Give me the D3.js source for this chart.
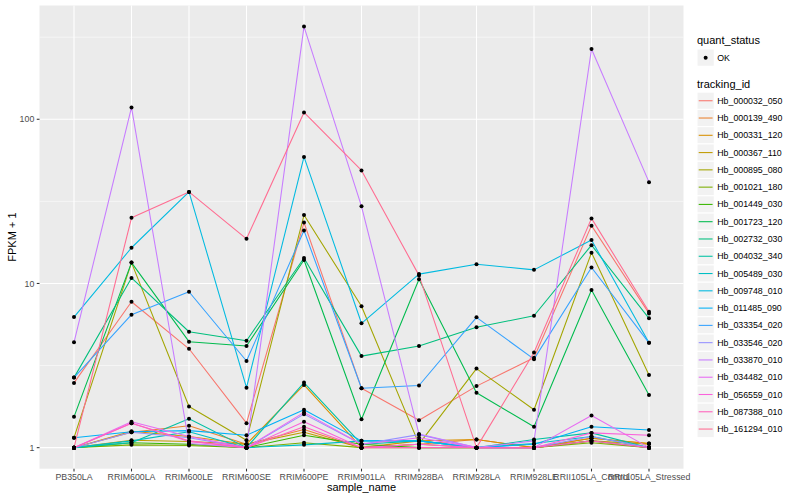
<!DOCTYPE html>
<html>
<head>
<meta charset="utf-8">
<script src="https://cdn.jsdelivr.net/npm/d3@7"></script>
<style>
  html, body { margin: 0; padding: 0; background: #ffffff; }
  svg { display: block; font-family: "Liberation Sans", Arial, sans-serif; }
</style>
</head>
<body>
<svg id="chart" width="800" height="500"></svg>
<script>
const samples = ["PB350LA","RRIM600LA","RRIM600LE","RRIM600SE","RRIM600PE","RRIM901LA","RRIM928BA","RRIM928LA","RRIM928LE","RRII105LA_Control","RRII105LA_Stressed"];

const trackingIds = ["Hb_000032_050","Hb_000139_490","Hb_000331_120","Hb_000367_110","Hb_000895_080","Hb_001021_180","Hb_001449_030","Hb_001723_120","Hb_002732_030","Hb_004032_340","Hb_005489_030","Hb_009748_010","Hb_011485_090","Hb_033354_020","Hb_033546_020","Hb_033870_010","Hb_034482_010","Hb_056559_010","Hb_087388_010","Hb_161294_010"];

const seriesColors = ["#F8766D","#EA8331","#D89000","#C09B00","#A3A500","#7CAE00","#39B600","#00BB4E","#00BF7D","#00C1A3","#00BFC4","#00BAE0","#00B0F6","#35A2FF","#9590FF","#C77CFF","#E76BF3","#FA62DB","#FF62BC","#FF6C91"];

// FPKM + 1 values, one array per tracking_id, in sample order
const v_000032_050 = [2.48, 7.74, 4.0, 1.41, 23.5, 2.30, 1.47, 2.37, 3.53, 22.5, 6.57];
const v_000139_490 = [1.0, 1.24, 1.36, 1.05, 1.29, 1.0, 1.05, 1.12, 1.0, 1.14, 1.06];
const v_000331_120 = [1.0, 1.26, 1.17, 1.05, 2.41, 1.0, 1.10, 1.12, 1.0, 1.14, 1.06];
const v_000367_110 = [1.0, 1.11, 1.09, 1.05, 1.24, 1.0, 1.05, 1.0, 1.0, 1.10, 1.05];
const v_000895_080 = [1.15, 13.4, 1.78, 1.11, 26.1, 7.26, 1.05, 3.03, 1.70, 15.4, 2.77];
const v_001021_180 = [1.0, 1.04, 1.03, 1.0, 1.07, 1.0, 1.0, 1.0, 1.0, 1.07, 1.0];
const v_001449_030 = [1.0, 1.07, 1.05, 1.0, 1.19, 1.05, 1.0, 1.0, 1.0, 1.10, 1.0];
const v_001723_120 = [1.54, 13.4, 4.42, 4.16, 13.9, 1.49, 10.6, 2.16, 1.34, 9.12, 2.09];
const v_002732_030 = [2.67, 10.8, 5.08, 4.48, 14.3, 3.61, 4.16, 5.41, 6.36, 17.1, 6.13];
const v_004032_340 = [1.0, 1.07, 1.50, 1.0, 2.49, 1.05, 1.10, 1.0, 1.12, 1.23, 1.0];
const v_005489_030 = [1.0, 1.10, 1.25, 1.0, 1.04, 1.10, 1.10, 1.0, 1.06, 1.17, 1.0];
const v_009748_010 = [6.24, 16.5, 36.1, 2.32, 59.0, 5.72, 11.4, 13.1, 12.1, 18.4, 4.35];
const v_011485_090 = [1.15, 1.25, 1.27, 1.19, 1.70, 1.10, 1.10, 1.0, 1.05, 1.34, 1.28];
const v_033354_020 = [2.67, 6.45, 8.9, 3.37, 21.0, 2.30, 2.39, 6.22, 3.46, 12.5, 4.35];
const v_033546_020 = [1.0, 1.24, 1.15, 1.0, 1.60, 1.05, 1.20, 1.0, 1.0, 1.17, 1.0];
const v_033870_010 = [4.38, 118, 1.06, 1.0, 367, 29.5, 1.21, 1.0, 1.10, 268, 41.4];
const v_034482_010 = [1.0, 1.44, 1.17, 1.0, 1.64, 1.05, 1.15, 1.0, 1.0, 1.57, 1.0];
const v_056559_010 = [1.0, 1.41, 1.09, 1.0, 1.44, 1.0, 1.05, 1.0, 1.0, 1.23, 1.19];
const v_087388_010 = [1.0, 1.41, 1.10, 1.0, 1.34, 1.0, 1.0, 1.0, 1.0, 1.10, 1.0];
const v_161294_010 = [1.0, 25.1, 36.1, 18.7, 110, 48.8, 11.2, 1.0, 3.80, 24.9, 6.73];

const seriesValues = [v_000032_050, v_000139_490, v_000331_120, v_000367_110, v_000895_080, v_001021_180, v_001449_030, v_001723_120, v_002732_030, v_004032_340, v_005489_030, v_009748_010, v_011485_090, v_033354_020, v_033546_020, v_033870_010, v_034482_010, v_056559_010, v_087388_010, v_161294_010];

const yTicks = [1, 10, 100];
const yTickLabels = ["1", "10", "100"];
const quantStatus = ["OK"];

// ---- layout ----
const svg = d3.select("#chart");
const panel = { left: 39.5, right: 683.5, top: 5.5, bottom: 468.7 };

const series = trackingIds.map((id, i) => ({
  id, color: seriesColors[i],
  values: samples.map((s, j) => ({ sample: s, value: seriesValues[i][j] }))
}));

const allVals = seriesValues.flat();
const lmin = Math.log10(d3.min(allVals)), lmax = Math.log10(d3.max(allVals));
const ex = (lmax - lmin) * 0.05;

const x = d3.scalePoint().domain(samples).range([panel.left, panel.right]).padding(0.6);
const y = d3.scaleLog().domain([Math.pow(10, lmin - ex), Math.pow(10, lmax + ex)]).range([panel.bottom, panel.top]);

// panel background
svg.append("rect")
  .attr("x", panel.left).attr("y", panel.top)
  .attr("width", panel.right - panel.left).attr("height", panel.bottom - panel.top)
  .attr("fill", "#EBEBEB");

// grid
const grid = svg.append("g");
const minor = [Math.pow(10, 0.5), Math.pow(10, 1.5), Math.pow(10, 2.5)];
grid.selectAll(".minor").data(minor).enter().append("line")
  .attr("x1", panel.left).attr("x2", panel.right)
  .attr("y1", d => y(d)).attr("y2", d => y(d))
  .attr("stroke", "#ffffff").attr("stroke-width", 0.53);
grid.selectAll(".major").data(yTicks).enter().append("line")
  .attr("x1", panel.left).attr("x2", panel.right)
  .attr("y1", d => y(d)).attr("y2", d => y(d))
  .attr("stroke", "#ffffff").attr("stroke-width", 1.07);
grid.selectAll(".vmajor").data(samples).enter().append("line")
  .attr("x1", d => x(d)).attr("x2", d => x(d))
  .attr("y1", panel.top).attr("y2", panel.bottom)
  .attr("stroke", "#ffffff").attr("stroke-width", 1.07);

// lines
const line = d3.line().x(d => x(d.sample)).y(d => y(d.value));
svg.append("g").selectAll("path").data(series).enter().append("path")
  .attr("d", d => line(d.values))
  .attr("fill", "none")
  .attr("stroke", d => d.color)
  .attr("stroke-width", 1.07)
  .attr("stroke-linejoin", "round");

// points
const pts = svg.append("g");
series.forEach(s => {
  pts.selectAll(null).data(s.values).enter().append("circle")
    .attr("cx", d => x(d.sample)).attr("cy", d => y(d.value))
    .attr("r", 2).attr("fill", "#000000");
});

// axes
const axisColor = "#333333";
const tickText = "#4D4D4D";
const yAxis = svg.append("g");
yAxis.selectAll("line").data(yTicks).enter().append("line")
  .attr("x1", panel.left - 2.74).attr("x2", panel.left)
  .attr("y1", d => y(d)).attr("y2", d => y(d))
  .attr("stroke", axisColor).attr("stroke-width", 1.07);
yAxis.selectAll("text").data(yTicks).enter().append("text")
  .attr("x", panel.left - 5.2).attr("y", d => y(d))
  .attr("dy", "0.35em")
  .attr("text-anchor", "end")
  .attr("font-size", "8.8px").attr("fill", tickText)
  .text((d, i) => yTickLabels[i]);

const xAxis = svg.append("g");
xAxis.selectAll("line").data(samples).enter().append("line")
  .attr("x1", d => x(d)).attr("x2", d => x(d))
  .attr("y1", panel.bottom).attr("y2", panel.bottom + 2.74)
  .attr("stroke", axisColor).attr("stroke-width", 1.07);
xAxis.selectAll("text").data(samples).enter().append("text")
  .attr("x", d => x(d)).attr("y", panel.bottom + 11.4)
  .attr("text-anchor", "middle")
  .attr("font-size", "8.8px").attr("fill", tickText)
  .text(d => d);

// axis titles
svg.append("text")
  .attr("x", (panel.left + panel.right) / 2).attr("y", 491)
  .attr("text-anchor", "middle").attr("font-size", "11px").attr("fill", "#000")
  .text("sample_name");
svg.append("text")
  .attr("transform", `translate(16,${(panel.top + panel.bottom) / 2}) rotate(-90)`)
  .attr("text-anchor", "middle").attr("font-size", "11px").attr("fill", "#000")
  .text("FPKM + 1");

// legend
const lg = svg.append("g");
const lx = 697, keySize = 17.28;
lg.append("text").attr("x", lx).attr("y", 44).attr("font-size", "11px").attr("fill", "#000").text("quant_status");
const qk = lg.selectAll(".qk").data(quantStatus).enter().append("g")
  .attr("transform", (d, i) => `translate(${lx},${49 + i * keySize})`);
qk.append("rect").attr("width", keySize).attr("height", keySize).attr("fill", "#F2F2F2").attr("stroke", "#ffffff").attr("stroke-width", 1.07);
qk.append("circle").attr("cx", keySize / 2).attr("cy", keySize / 2).attr("r", 2).attr("fill", "#000");
qk.append("text").attr("x", keySize + 3).attr("y", keySize / 2).attr("dy", "0.35em")
  .attr("font-size", "8.8px").attr("fill", "#000").text(d => d);

lg.append("text").attr("x", lx).attr("y", 88).attr("font-size", "11px").attr("fill", "#000").text("tracking_id");
const tk = lg.selectAll(".tk").data(series).enter().append("g")
  .attr("transform", (d, i) => `translate(${lx},${92.1 + i * keySize})`);
tk.append("rect").attr("width", keySize).attr("height", keySize).attr("fill", "#F2F2F2").attr("stroke", "#ffffff").attr("stroke-width", 1.07);
tk.append("line").attr("x1", 1.7).attr("x2", keySize - 1.7)
  .attr("y1", keySize / 2).attr("y2", keySize / 2)
  .attr("stroke", d => d.color).attr("stroke-width", 1.07);
tk.append("text").attr("x", keySize + 3).attr("y", keySize / 2).attr("dy", "0.35em")
  .attr("font-size", "8.8px").attr("fill", "#000").text(d => d.id);
</script>
</body>
</html>
